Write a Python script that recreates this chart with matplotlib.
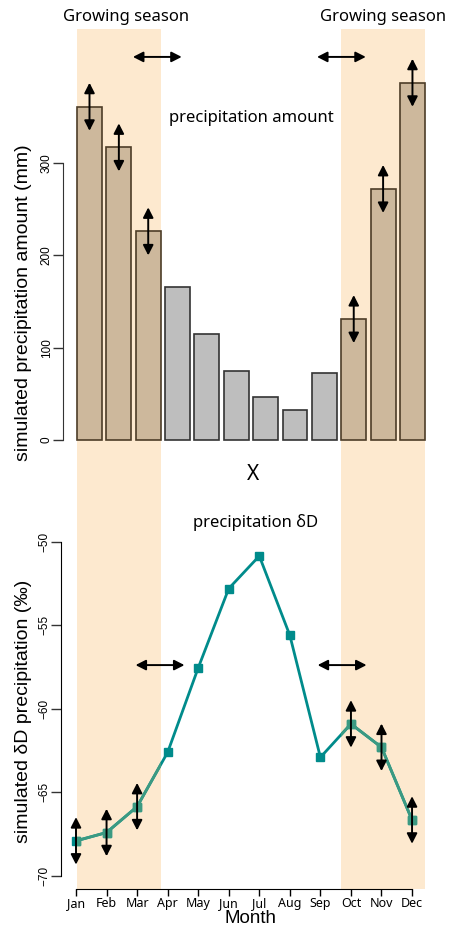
import numpy as np
import matplotlib
matplotlib.use('Agg')
import matplotlib.pyplot as plt
from matplotlib.patches import Rectangle

# monthly values
months = ['Jan', 'Feb', 'Mar', 'Apr', 'May', 'Jun', 'Jul', 'Aug', 'Sep', 'Oct', 'Nov', 'Dec']
precip = [361, 317, 226, 166, 115, 75, 47, 33, 73, 131, 272, 387]
dD = [-67.9, -67.4, -65.85, -62.6, -57.55, -52.8, -50.85, -55.6, -62.9, -60.9, -62.3, -66.65]
season = [1, 1, 1, 0, 0, 0, 0, 0, 0, 1, 1, 1]   # growing season months
season_blocks = [(0, 2), (9, 11)]
shift_top = [2.31, 8.58]      # horizontal arrow centres (month units)
shift_bot = [2.75, 8.71]

W, H = 452, 932
fig = plt.figure(figsize=(W / 100, H / 100), dpi=100)

def px_axes(l, r, t, b):
    return fig.add_axes([l / W, (H - b) / H, (r - l) / W, (b - t) / H])

shade_col = '#fde9cf'
teal = '#008b8b'
teal_sh = '#3b9a82'
lab_font = 'Liberation Sans'
ann_font = 'Noto Sans'

# ---- top: precipitation amount
ax1 = px_axes(63, 440, 20, 445)
ax1.set_facecolor('none')
bw = 0.85
x = np.arange(len(months))
fc = ['#cdb89c' if s else '#bebebe' for s in season]
ec = ['#4d3d28' if s else '#333333' for s in season]
ax1.bar(x, precip, width=bw, color=fc, edgecolor=ec, linewidth=1.2, zorder=2)
ax1.set_xlim(-0.9026, 11.938)
ax1.set_ylim(-5.42, 455)
for s in ['top', 'right', 'bottom']:
    ax1.spines[s].set_visible(False)
ax1.spines['left'].set_bounds(0, 300)
ax1.spines['left'].set_color('#333333')
ax1.set_xticks([])
ax1.set_yticks([0, 100, 200, 300])
ax1.tick_params(axis='y', length=7, width=1, color='#333333', labelsize=8.5, pad=0.5)
for t in ax1.get_yticklabels():
    t.set_rotation(90)
    t.set_va('center')
    t.set_family(lab_font)
ax1.set_ylabel('simulated precipitation amount (mm)', fontsize=14, family=lab_font)
ax1.yaxis.set_label_coords((32 - 63) / 377, 0.336)

aprops = dict(arrowstyle='<|-|>,head_length=0.55,head_width=0.28', color='black', lw=1.4,
              mutation_scale=11, shrinkA=0, shrinkB=0)
for i in range(len(months)):
    if season[i]:
        ax1.annotate('', xy=(i, precip[i] + 26), xytext=(i, precip[i] - 26), arrowprops=aprops, zorder=5)
for c in shift_top:
    ax1.annotate('', xy=(c + 0.83, 415), xytext=(c - 0.83, 415), arrowprops=aprops)
ax1.text(5.53, 349, 'precipitation amount', ha='center', va='center', fontsize=12, family=ann_font)

# ---- bottom: precipitation dD
ax2 = px_axes(61, 440, 505, 889)
ax2.set_facecolor('none')
ax2.plot(x, dD, color=teal, lw=2, marker='s', ms=5.5, zorder=3)
ax2.set_xlim(-0.491, 11.915)
ax2.set_ylim(-70.78, -47.8)
for s in ['top', 'right']:
    ax2.spines[s].set_visible(False)
ax2.spines['left'].set_bounds(-70, -50)
ax2.spines['bottom'].set_bounds(0, 11)
ax2.set_xticks(x)
ax2.set_xticklabels(months, fontsize=9, family=ann_font)
ax2.set_yticks([-70, -65, -60, -55, -50])
ax2.tick_params(axis='x', length=5, width=1, pad=0.5)
ax2.tick_params(axis='y', length=7, width=1, color='#333333', labelsize=8.5, pad=0.5)
for t in ax2.get_yticklabels():
    t.set_rotation(90)
    t.set_va('center')
    t.set_family(lab_font)
ax2.set_ylabel('simulated δD precipitation (‰)', fontsize=14, family=lab_font)
ax2.yaxis.set_label_coords((32 - 61) / 379, 0.4635)
ax2.set_xlabel('Month', fontsize=13.5, family=lab_font, labelpad=0)
for i in range(len(months)):
    if season[i]:
        ax2.annotate('', xy=(i, dD[i] + 1.42), xytext=(i, dD[i] - 1.42), arrowprops=aprops, zorder=5)
for c in shift_bot:
    ax2.annotate('', xy=(c + 0.8, -57.38), xytext=(c - 0.8, -57.38), arrowprops=aprops)
ax2.text(5.89, -48.82, 'precipitation δD', ha='center', va='center', fontsize=12, family=ann_font)

# ---- growing season shading spanning both panels
inv = fig.transFigure.inverted()
y_top = inv.transform(ax1.transData.transform((0, 445)))[1]
y_bot = inv.transform(ax2.transData.transform((0, -70.78)))[1]
label_shift = [7.5 / W, 0.0]
for k, (a, b) in enumerate(season_blocks):
    x0 = inv.transform(ax1.transData.transform((a - bw / 2, 0)))[0]
    x1 = inv.transform(ax1.transData.transform((b + bw / 2, 0)))[0]
    fig.add_artist(Rectangle((x0, y_bot), x1 - x0, y_top - y_bot, transform=fig.transFigure,
                             facecolor=shade_col, edgecolor='none', zorder=-1))
    # tinted copy of the dD line inside the shaded band
    clip = Rectangle((x0, y_bot), x1 - x0, y_top - y_bot, transform=fig.transFigure)
    ln, = ax2.plot(x, dD, color=teal_sh, lw=2, marker='s', ms=5.5, zorder=4)
    ln.set_clip_path(clip)
    fig.text((x0 + x1) / 2 + label_shift[k], 1 - 17 / H, 'Growing season', ha='center', va='center',
             fontsize=12, family=ann_font)

fig.text(253 / W, 1 - 475 / H, 'X', ha='center', va='center', fontsize=15, family=ann_font)

fig.savefig('out.png', dpi=100)
